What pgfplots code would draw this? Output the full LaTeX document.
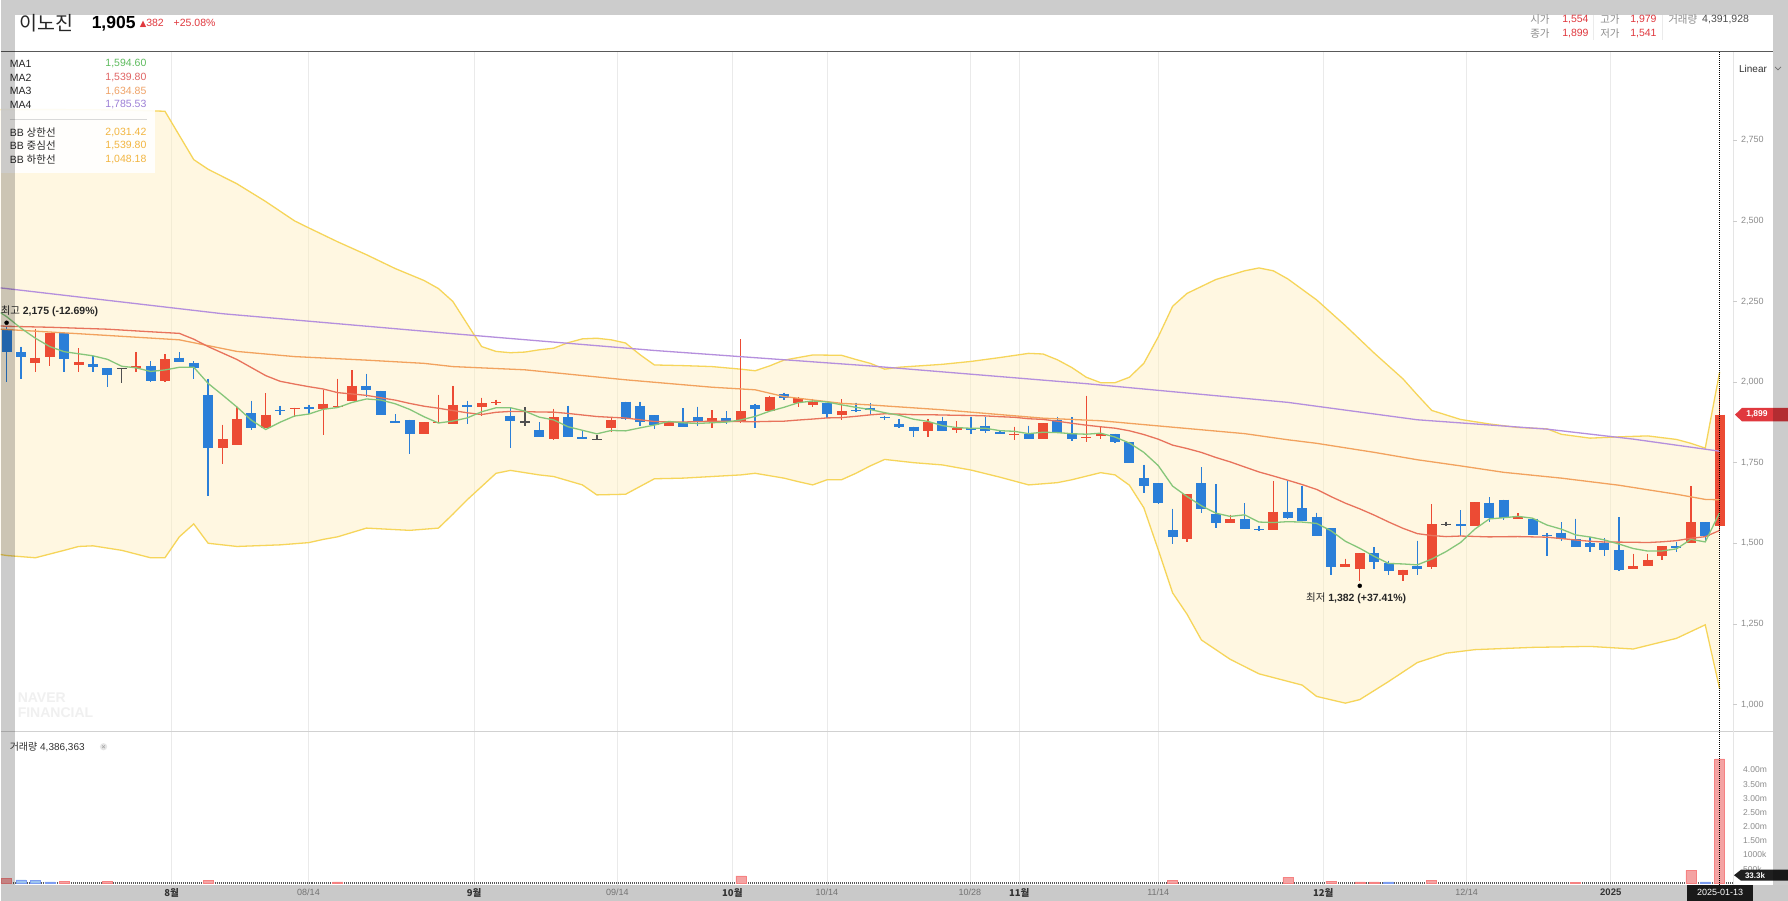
\documentclass[border=0pt]{standalone}
\usepackage{fontspec}
\setmainfont{Liberation Sans}
\newfontfamily\kr{Noto Sans CJK KR}
\newfontfamily\dejavu{DejaVu Sans}
\usepackage{pgfplots}
\usepackage{pgfplotstable}
\pgfplotsset{compat=1.18}

\definecolor{upred}{HTML}{EC4B34}
\definecolor{dnblue}{HTML}{2B7FD8}
\definecolor{dojic}{HTML}{505050}
\definecolor{maA}{HTML}{86C67A}
\definecolor{maB}{HTML}{E8735C}
\definecolor{maC}{HTML}{F2A25E}
\definecolor{maD}{HTML}{B58FDD}
\definecolor{bbline}{HTML}{F6D55A}
\definecolor{bbfill}{HTML}{FFEFBD}
\definecolor{volred}{HTML}{F4A3A3}
\definecolor{volblue}{HTML}{9CC4EE}
\definecolor{hdrred}{HTML}{E0383E}
\definecolor{lbl}{HTML}{8C8C8C}
\definecolor{gridc}{HTML}{EAEAEA}
\definecolor{legA}{HTML}{5DBB5D}
\definecolor{legB}{HTML}{E06464}
\definecolor{legC}{HTML}{EFA266}
\definecolor{legD}{HTML}{9C7FD6}
\definecolor{legBB}{HTML}{F2B540}

\newcommand{\fs}[1]{\fontsize{#1}{#1}\selectfont}

% k top bottom high low  (up = red: top=close, bottom=open)
\pgfplotstableread{
k top bot hi lo
2 2076 2058 2165 2030
3 2151 2079 2151 2051
5 2061 2052 2105 2032
9 2049 2045 2093 2030
11 2071 2004 2086 2000
15 1824 1797 1867 1745
16 1885 1805 1924 1805
18 1899 1858 1965 1858
20 1920 1916 1920 1893
22 1933 1916 1975 1836
23 1926 1922 2010 1922
24 1989 1942 2036 1942
29 1875 1839 1875 1839
30 1877 1873 1960 1873
31 1929 1869 1988 1869
33 1934 1924 1952 1895
34 1938 1934 1945 1930
38 1891 1823 1917 1821
42 1883 1857 1888 1844
46 1877 1865 1877 1864
49 1888 1875 1912 1857
51 1911 1877 2133 1873
53 1955 1909 1957 1909
55 1949 1935 1953 1922
56 1937 1930 1948 1924
58 1911 1898 1947 1881
64 1876 1849 1886 1829
66 1858 1850 1878 1843
70 1840 1836 1862 1821
72 1873 1822 1873 1822
75 1831 1825 1957 1813
76 1838 1833 1862 1822
82 1652 1513 1652 1505
85 1575 1564 1588 1564
88 1598 1540 1692 1540
93 1435 1426 1452 1426
94 1469 1420 1469 1382
97 1418 1400 1418 1384
99 1559 1426 1621 1420
102 1627 1554 1627 1554
105 1580 1576 1593 1576
113 1428 1420 1467 1420
114 1449 1428 1467 1428
115 1490 1459 1490 1449
117 1565 1502 1678 1502
119 1899 1554 1979 1541
}\upT

% down = blue: top=open, bottom=close
\pgfplotstableread{
k top bot hi lo
0 2161 2093 2175 2001
1 2092 2079 2110 2010
4 2151 2072 2151 2030
6 2055 2047 2080 2030
7 2043 2022 2043 1986
10 2050 2004 2065 1999
12 2076 2063 2093 2063
13 2060 2044 2065 2010
14 1960 1797 2010 1648
17 1904 1859 1942 1850
19 1914 1910 1926 1898
21 1922 1916 1930 1900
25 1989 1974 2025 1955
26 1973 1899 1973 1899
27 1878 1874 1900 1874
28 1883 1839 1883 1776
32 1929 1924 1942 1869
35 1896 1878 1919 1797
37 1850 1831 1876 1831
39 1891 1831 1926 1831
40 1831 1823 1847 1823
43 1939 1885 1939 1883
44 1926 1877 1939 1864
45 1897 1867 1897 1854
47 1877 1862 1919 1862
48 1891 1875 1924 1864
50 1888 1877 1909 1870
52 1928 1916 1932 1857
54 1963 1949 1967 1945
57 1936 1901 1936 1888
59 1914 1910 1936 1908
60 1921 1914 1935 1899
61 1893 1889 1896 1882
62 1870 1862 1885 1859
63 1862 1849 1862 1829
65 1879 1849 1893 1849
67 1859 1851 1893 1839
68 1865 1849 1891 1841
69 1846 1839 1849 1838
71 1840 1822 1865 1822
73 1883 1843 1893 1843
74 1841 1822 1891 1818
77 1838 1813 1840 1810
78 1813 1750 1815 1748
79 1703 1678 1744 1656
80 1686 1626 1686 1622
81 1541 1519 1607 1498
83 1686 1606 1735 1594
84 1591 1564 1683 1547
86 1575 1544 1624 1544
87 1544 1540 1555 1538
89 1598 1578 1694 1576
90 1609 1568 1678 1568
91 1581 1524 1595 1524
92 1547 1426 1547 1400
95 1469 1443 1488 1420
96 1440 1414 1446 1400
98 1428 1421 1508 1400
101 1559 1554 1602 1521
103 1626 1578 1643 1567
104 1635 1578 1635 1571
106 1576 1526 1576 1526
107 1526 1521 1531 1459
108 1533 1514 1565 1508
109 1513 1488 1576 1488
110 1502 1488 1519 1474
111 1500 1480 1516 1459
112 1480 1418 1581 1415
116 1490 1485 1503 1474
118 1565 1521 1565 1508
}\dnT

\pgfplotstableread{
k top bot hi lo
8 2045 2041 2043 1996
36 1878 1874 1922 1864
41 1823 1819 1836 1819
100 1561 1557 1567 1554
}\djT

\pgfplotsset{
  candle/.style n args={2}{only marks, forget plot, no markers, mark size=0pt,
    error bars/.cd, y dir=minus, y explicit, error mark=none,
    error bar style={draw=#1, line width=#2}},
}

\begin{document}
\begin{tikzpicture}
\begin{scope}[x=1pt,y=1pt]
\useasboundingbox (0,0) rectangle (1788,901);
\fill[white] (0,0) rectangle (1788,901);
\end{scope}

% ---------------- price panel ----------------
\begin{axis}[at={(0pt,169pt)}, anchor=south west, scale only axis,
  width=1733pt, height=680pt,
  xmin=-0.4167, xmax=119.93, ymin=915.3, ymax=3023.9,
  axis line style={draw=none}, tick style={draw=none},
  xtick={11.458,20.972,32.472,42.43,50.417,56.99,66.92,70.35,80.0,91.458,101.43,111.44},
  xticklabels={}, ytick=\empty, xmajorgrids,
  major grid style={draw=gridc, line width=0.8pt}, clip=true]

% Bollinger band area: upper band forward, lower band backward
\addplot[fill=bbfill, fill opacity=0.45, draw=none, forget plot] coordinates {(-0.42,2845)(0,2845)(4,2845)(8,2844)(11,2840)(12,2765)(13,2690)(14,2660)(16,2615)(18,2560)(20,2500)(21,2478)(23,2435)(25,2395)(27,2352)(29,2315)(30,2290)(31,2250)(32,2180)(33,2110)(34,2095)(35,2091)(36,2093)(37,2100)(38,2105)(39,2122)(40,2134)(41,2136)(42,2131)(43,2121)(44,2085)(45,2053)(47,2051)(49,2048)(51,2040)(52,2035)(53,2050)(54,2068)(56,2084)(58,2083)(59,2070)(60,2058)(61,2040)(62,2046)(65,2055)(67,2064)(69,2076)(71,2089)(72,2087)(73,2069)(74,2045)(75,2015)(76,1998)(77,1998)(78,2015)(79,2058)(80,2140)(81,2235)(82,2275)(84,2318)(86,2345)(87,2354)(88,2345)(89,2320)(91,2255)(93,2175)(95,2090)(97,2010)(98,1960)(99,1912)(101,1884)(103,1870)(105,1859)(107,1855)(108,1838)(110,1826)(112,1830)(114,1833)(116,1822)(117,1810)(118,1795)(119,2031.42)
(119,1048.18)(118,1247)(116,1205)(113,1172)(110,1180)(106,1177)(102,1170)(100,1159)(98,1130)(96,1071)(94,1015)(93,1004)(91,1025)(90,1060)(87,1095)(85,1140)(83,1200)(82,1280)(81,1346)(80,1480)(79,1610)(78,1680)(77,1712)(76,1719)(74,1697)(73,1688)(71,1681)(69,1705)(67,1727)(65,1743)(63,1750)(61,1760)(60,1740)(59,1717)(58,1697)(57,1697)(56,1681)(55,1691)(54,1702)(52,1717)(51,1712)(49,1707)(47,1702)(45,1700)(44,1676)(43,1652)(41,1650)(40,1681)(38,1707)(37,1712)(35,1726)(34,1717)(32,1635)(31,1590)(30,1547)(28,1540)(25,1547)(23,1520)(22,1512)(21,1502)(19,1495)(16,1490)(14,1500)(13,1560)(12,1520)(11,1455)(10,1455)(8,1478)(6,1492)(5,1490)(4,1478)(2,1455)(0,1462)(-0.42,1465)} -- cycle;
\addplot[bbline, line width=1.3pt, forget plot] coordinates {(-0.42,2845)(0,2845)(4,2845)(8,2844)(11,2840)(12,2765)(13,2690)(14,2660)(16,2615)(18,2560)(20,2500)(21,2478)(23,2435)(25,2395)(27,2352)(29,2315)(30,2290)(31,2250)(32,2180)(33,2110)(34,2095)(35,2091)(36,2093)(37,2100)(38,2105)(39,2122)(40,2134)(41,2136)(42,2131)(43,2121)(44,2085)(45,2053)(47,2051)(49,2048)(51,2040)(52,2035)(53,2050)(54,2068)(56,2084)(58,2083)(59,2070)(60,2058)(61,2040)(62,2046)(65,2055)(67,2064)(69,2076)(71,2089)(72,2087)(73,2069)(74,2045)(75,2015)(76,1998)(77,1998)(78,2015)(79,2058)(80,2140)(81,2235)(82,2275)(84,2318)(86,2345)(87,2354)(88,2345)(89,2320)(91,2255)(93,2175)(95,2090)(97,2010)(98,1960)(99,1912)(101,1884)(103,1870)(105,1859)(107,1855)(108,1838)(110,1826)(112,1830)(114,1833)(116,1822)(117,1810)(118,1795)(119,2031.42)};
\addplot[bbline, line width=1.3pt, forget plot] coordinates {(-0.42,1465)(0,1462)(2,1455)(4,1478)(5,1490)(6,1492)(8,1478)(10,1455)(11,1455)(12,1520)(13,1560)(14,1500)(16,1490)(19,1495)(21,1502)(22,1512)(23,1520)(25,1547)(28,1540)(30,1547)(31,1590)(32,1635)(34,1717)(35,1726)(37,1712)(38,1707)(40,1681)(41,1650)(43,1652)(44,1676)(45,1700)(47,1702)(49,1707)(51,1712)(52,1717)(54,1702)(55,1691)(56,1681)(57,1697)(58,1697)(59,1717)(60,1740)(61,1760)(63,1750)(65,1743)(67,1727)(69,1705)(71,1681)(73,1688)(74,1697)(76,1719)(77,1712)(78,1680)(79,1610)(80,1480)(81,1346)(82,1280)(83,1200)(85,1140)(87,1095)(90,1060)(91,1025)(93,1004)(94,1015)(96,1071)(98,1130)(100,1159)(102,1170)(106,1177)(110,1180)(113,1172)(116,1205)(118,1247)(119,1048.18)};

% candles: wicks
\addplot[candle={upred}{1.4pt}] table[x=k, y=hi, y error minus expr=\thisrow{hi}-\thisrow{lo}] {\upT};
\addplot[candle={dnblue}{1.4pt}] table[x=k, y=hi, y error minus expr=\thisrow{hi}-\thisrow{lo}] {\dnT};
\addplot[candle={dojic}{1.4pt}] table[x=k, y=hi, y error minus expr=\thisrow{hi}-\thisrow{lo}] {\djT};
% candles: bodies
\addplot[candle={upred}{10pt}] table[x=k, y=top, y error minus expr=\thisrow{top}-\thisrow{bot}] {\upT};
\addplot[candle={dnblue}{10pt}] table[x=k, y=top, y error minus expr=\thisrow{top}-\thisrow{bot}] {\dnT};
\addplot[candle={dojic}{10pt}] table[x=k, y=top, y error minus expr=\thisrow{top}-\thisrow{bot}] {\djT};

% moving averages
\addplot[maD, line width=1.3pt] coordinates {(-0.42,2292)(0,2290)(15,2212)(31,2150)(45,2098)(60,2050)(75,1995)(89,1937)(98,1883)(107,1854)(113,1823)(119,1785.53)};
\addplot[maC, line width=1.3pt] coordinates {(-0.42,2164)(0,2163)(5,2150)(12,2131)(16,2095)(20,2079)(25,2068)(29,2058)(31,2048)(36,2038)(43,2007)(49,1984)(52,1976)(54,1955)(58,1934)(60,1929)(65,1914)(72,1888)(76,1880)(81,1860)(86,1840)(89,1821)(91,1810)(95,1782)(98,1759)(101,1740)(104,1720)(108,1702)(112,1680)(116,1652)(118,1636)(119,1634.85)};
\addplot[maB, line width=1.3pt] coordinates {(-0.42,2174)(0,2173)(3,2170)(7,2164)(10,2156)(12,2151)(13,2133)(14,2110)(15,2090)(16,2070)(17,2045)(18,2020)(19,2002.4)(20,1993.75)(21,1985.6)(22,1978.45)(23,1967.2)(24,1963.05)(25,1958.7)(26,1951.3)(27,1943.95)(28,1933.75)(29,1925.1)(30,1918.75)(31,1911.65)(32,1904.7)(33,1899.2)(34,1906.2)(35,1908.9)(36,1908.45)(37,1907.05)(38,1906.65)(39,1902.7)(40,1897.85)(41,1893.1)(42,1890.6)(43,1888.55)(44,1882.95)(45,1877.6)(46,1876.5)(47,1875.85)(48,1877.65)(49,1878.3)(50,1878.3)(51,1877.4)(52,1877)(53,1878.05)(54,1878.65)(55,1882.2)(56,1885.25)(57,1888.75)(58,1889.75)(59,1893.7)(60,1898.25)(61,1901.65)(62,1900.6)(63,1898.8)(64,1898.75)(65,1897.85)(66,1896.9)(67,1896.35)(68,1895.05)(69,1892.6)(70,1890.7)(71,1886.25)(72,1884.1)(73,1878.5)(74,1872.15)(75,1866.25)(76,1861.3)(77,1856.9)(78,1848.85)(79,1837.25)(80,1822.85)(81,1804.35)(82,1793.85)(83,1781.7)(84,1766.1)(85,1752.4)(86,1736.7)(87,1721.15)(88,1708.6)(89,1695.55)(90,1682)(91,1667.1)(92,1644.75)(93,1624.35)(94,1606.7)(95,1587.3)(96,1566.1)(97,1546.35)(98,1529.9)(99,1523.95)(100,1520.6)(101,1522.35)(102,1521.1)(103,1519.7)(104,1520.4)(105,1520.65)(106,1519.75)(107,1518.8)(108,1514.6)(109,1510.1)(110,1506.1)(111,1503.9)(112,1503.5)(113,1503.15)(114,1502.15)(115,1504.5)(116,1508.05)(117,1515.4)(118,1520.4)(119,1539.8)};
\addplot[maA, line width=1.3pt] coordinates {(-0.42,2215)(0,2203)(1,2167)(2,2136)(3,2110)(4,2094.2)(5,2087.8)(6,2081.4)(7,2070.6)(8,2049)(9,2044.2)(10,2032.8)(11,2037.6)(12,2045.8)(13,2046)(14,1995.8)(15,1959.8)(16,1922.6)(17,1881.8)(18,1852.8)(19,1875.4)(20,1894.6)(21,1900.8)(22,1915.6)(23,1921)(24,1936.8)(25,1947.6)(26,1944.2)(27,1932.6)(28,1915.2)(29,1892.4)(30,1873)(31,1879)(32,1888.8)(33,1907.8)(34,1920.2)(35,1920.4)(36,1909.8)(37,1891.2)(38,1882.6)(39,1861.4)(40,1850.4)(41,1839.4)(42,1849.8)(43,1848.6)(44,1857.8)(45,1866.6)(46,1877.8)(47,1873.6)(48,1871.6)(49,1873.8)(50,1875.8)(51,1882.6)(52,1893.4)(53,1909.4)(54,1921.6)(55,1936)(56,1941.2)(57,1938.2)(58,1929.4)(59,1921.6)(60,1914.6)(61,1905)(62,1897.2)(63,1884.8)(64,1878)(65,1865)(66,1858.8)(67,1856.6)(68,1856.6)(69,1849.2)(70,1847.2)(71,1840)(72,1844.4)(73,1843.2)(74,1839.8)(75,1838.2)(76,1841.4)(77,1829.4)(78,1810.8)(79,1782)(80,1741)(81,1677.2)(82,1645)(83,1616.2)(84,1593.4)(85,1583.2)(86,1588.2)(87,1565.8)(88,1564.2)(89,1567)(90,1565.6)(91,1561.6)(92,1538.8)(93,1506.2)(94,1484.4)(95,1459.4)(96,1437.4)(97,1435.8)(98,1433)(99,1451)(100,1474.2)(101,1502.2)(102,1544)(103,1575.4)(104,1579.2)(105,1583.4)(106,1577.8)(107,1556.6)(108,1543.8)(109,1525.8)(110,1519.4)(111,1510.2)(112,1497.6)(113,1483.6)(114,1475.8)(115,1476.2)(116,1482.6)(117,1512)(118,1504.2)(119,1594.6)};

% high / low markers
\addplot[only marks, mark=*, mark size=2pt, black] coordinates {(0,2184)(94,1368)};
\end{axis}

% ---------------- volume panel ----------------
\begin{axis}[at={(0pt,16pt)}, anchor=south west, scale only axis,
  width=1733pt, height=153pt,
  xmin=-0.4167, xmax=119.93, ymin=-0.053, ymax=5.353,
  axis line style={draw=none}, tick style={draw=none},
  xtick={11.458,20.972,32.472,42.43,50.417,56.99,66.92,70.35,80.0,91.458,101.43,111.44},
  xticklabels={}, ytick=\empty, xmajorgrids,
  major grid style={draw=gridc, line width=0.8pt}, clip=true]
\addplot[black!65, line width=1.6pt, dash pattern=on 1pt off 1pt] coordinates {(-0.4167,0)(119.93,0)};
\addplot[ybar, bar width=10pt, bar shift=0pt, fill=volred, draw=volred!80!red, line width=0.5pt]
  coordinates {(0,0.17)(4,0.07)(7,0.07)(14,0.11)(23,0.05)(51,0.26)(81,0.11)(89,0.21)(92,0.07)(94,0.05)(95,0.05)(99,0.11)(109,0.04)(117,0.45)(119,4.39)};
\addplot[ybar, bar width=10pt, bar shift=0pt, fill=volblue, draw=volblue!80!blue, line width=0.5pt]
  coordinates {(1,0.12)(2,0.10)(3,0.05)(96,0.05)(118,0.05)};
\end{axis}

\begin{scope}[x=1pt,y=1pt]
% frame lines
\draw[black!65, line width=1.2pt] (0,849.5) -- (1773,849.5);
\draw[black!18, line width=1pt] (0,169) -- (1773,169);
\draw[black!10, line width=0.8pt] (1733,16) -- (1733,849);
\foreach \yy in {196.3,276.9,357.55,438.2,518.8,599.4,680.05,760.7} {\draw[black!20] (1733,\yy) -- (1737,\yy);}

% price tick labels
\begin{scope}[every node/.style={anchor=west, inner sep=0pt, text=lbl, font=\fs{9pt}}]
\node at (1741,196.3) {1,000};
\node at (1741,276.9) {1,250};
\node at (1741,357.55) {1,500};
\node at (1741,438.2) {1,750};
\node at (1741,518.8) {2,000};
\node at (1741,599.4) {2,250};
\node at (1741,680.05) {2,500};
\node at (1741,760.7) {2,750};
\end{scope}
% volume tick labels
\begin{scope}[every node/.style={anchor=west, inner sep=0pt, text=lbl, font=\fs{8.5pt}}]
\node at (1743,130.7) {4.00m};
\node at (1743,116.55) {3.50m};
\node at (1743,102.4) {3.00m};
\node at (1743,88.25) {2.50m};
\node at (1743,74.1) {2.00m};
\node at (1743,59.95) {1.50m};
\node at (1743,45.8) {1000k};
\node at (1743,31.65) {500k};
\end{scope}

% current price tag
\fill[hdrred] (1735,486.2) -- (1742,493) -- (1788,493) -- (1788,479.4) -- (1742,479.4) -- cycle;
\node[anchor=center, inner sep=0pt, text=white, font=\fs{8.5pt}\bfseries] at (1757,486.2) {1,899};
% volume tag
\fill[black!88] (1734,25.5) -- (1741,31) -- (1788,31) -- (1788,20) -- (1741,20) -- cycle;
\node[anchor=center, inner sep=0pt, text=white, font=\fs{8pt}\bfseries] at (1755,25.5) {33.3k};

% cursor
\draw[black, line width=0.7pt, dash pattern=on 1pt off 1pt] (1719.6,16) -- (1719.6,849);

% Linear
\node[anchor=center, inner sep=0pt, text=black!80, font=\fs{10pt}] at (1753,832.5) {Linear};
\draw[black!45, line width=0.7pt] (1775,834) -- (1778,831) -- (1781,834);

% annotations
\node[anchor=west, inner sep=0pt, text=black!85] at (0,590) {{\kr\fs{10.5pt}최고} \fs{10.5pt}\bfseries 2,175 (-12.69\%)};
\node[anchor=center, inner sep=0pt, text=black!85] at (1356,302.4) {{\kr\fs{10.5pt}최저} \fs{10.5pt}\bfseries 1,382 (+37.41\%)};

% watermark
\node[anchor=west, inner sep=0pt, text=black!6, font=\fs{14pt}\bfseries] at (17,203) {NAVER};
\node[anchor=west, inner sep=0pt, text=black!6, font=\fs{14pt}\bfseries] at (17,188) {FINANCIAL};

% legend box
\fill[white, opacity=0.93] (0,728) rectangle (154,846);
\draw[black!15] (9,781.3) -- (146,781.3);
\begin{scope}[every node/.style={inner sep=0pt, font=\fs{10.5pt}}]
\node[anchor=west, text=black!85] at (9,837.1) {MA1};
\node[anchor=west, text=black!85] at (9,823.5) {MA2};
\node[anchor=west, text=black!85] at (9,809.8) {MA3};
\node[anchor=west, text=black!85] at (9,796.1) {MA4};
\node[anchor=east, text=legA] at (146,837.1) {1,594.60};
\node[anchor=east, text=legB] at (146,823.5) {1,539.80};
\node[anchor=east, text=legC] at (146,809.8) {1,634.85};
\node[anchor=east, text=legD] at (146,796.1) {1,785.53};
\node[anchor=west, text=black!85] at (9,768.7) {BB {\kr 상한선}};
\node[anchor=west, text=black!85] at (9,755) {BB {\kr 중심선}};
\node[anchor=west, text=black!85] at (9,741.4) {BB {\kr 하한선}};
\node[anchor=east, text=legBB] at (146,768.7) {2,031.42};
\node[anchor=east, text=legBB] at (146,755) {1,539.80};
\node[anchor=east, text=legBB] at (146,741.4) {1,048.18};
\end{scope}

% volume title
\node[anchor=west, inner sep=0pt, text=black!80, font=\fs{10pt}] at (9,154) {{\kr 거래량} 4,386,363};
\fill[black!10] (103,154) circle (3.6);
\draw[black!35, line width=0.5pt] (101.6,152.6) -- (104.4,155.4) (101.6,155.4) -- (104.4,152.6);

% header
\node[anchor=west, inner sep=0pt, text=black!85, font=\kr\fs{19.5pt}] at (19,877.5) {이노진};
\node[anchor=west, inner sep=0pt, text=black, font=\fs{17.5pt}\bfseries] at (91,877) {1,905};
\node[anchor=west, inner sep=0pt, text=hdrred] at (139,878) {{\dejavu\fs{8.5pt}▲}\fs{10.5pt}382};
\node[anchor=west, inner sep=0pt, text=hdrred, font=\fs{10.5pt}] at (173,878) {+25.08\%};
\begin{scope}[every node/.style={anchor=west, inner sep=0pt, font=\fs{10.5pt}}]
\node[text=lbl] at (1530,881) {\kr 시가};
\node[text=hdrred] at (1562,881) {1,554};
\node[text=lbl] at (1600,881) {\kr 고가};
\node[text=hdrred] at (1630,881) {1,979};
\node[text=lbl] at (1668,881) {\kr 거래량};
\node[text=black!70] at (1702,881) {4,391,928};
\node[text=lbl] at (1530,867.5) {\kr 종가};
\node[text=hdrred] at (1562,867.5) {1,899};
\node[text=lbl] at (1600,867.5) {\kr 저가};
\node[text=hdrred] at (1630,867.5) {1,541};
\end{scope}
\draw[black!8] (1593,861) -- (1593,886);
\draw[black!8] (1662,861) -- (1662,886);

% date band
\fill[black!21] (0,0) rectangle (1788,16);
\begin{scope}[every node/.style={anchor=center, inner sep=0pt}]
\node[text=black!80, font=\kr\fs{9.5pt}\bfseries] at (171,8) {8월};
\node[text=black!55, font=\fs{9pt}] at (308,8) {08/14};
\node[text=black!80, font=\kr\fs{9.5pt}\bfseries] at (473.6,8) {9월};
\node[text=black!55, font=\fs{9pt}] at (617,8) {09/14};
\node[text=black!80, font=\kr\fs{9.5pt}\bfseries] at (732,8) {10월};
\node[text=black!55, font=\fs{9pt}] at (826.6,8) {10/14};
\node[text=black!55, font=\fs{9pt}] at (969.7,8) {10/28};
\node[text=black!80, font=\kr\fs{9.5pt}\bfseries] at (1019,8) {11월};
\node[text=black!55, font=\fs{9pt}] at (1158,8) {11/14};
\node[text=black!80, font=\kr\fs{9.5pt}\bfseries] at (1323,8) {12월};
\node[text=black!55, font=\fs{9pt}] at (1466.6,8) {12/14};
\node[text=black!80, font=\fs{9.5pt}\bfseries] at (1610.7,8) {2025};
\end{scope}
\fill[black!90] (1687,0) rectangle (1753,16);
\node[anchor=center, inner sep=0pt, text=white, font=\fs{9pt}] at (1720,8) {2025-01-13};

% outer grey frame
\fill[black, opacity=0.2] (0,886) rectangle (1788,901);
\fill[black, opacity=0.2] (0,16) rectangle (14,886);
\fill[black, opacity=0.2] (1773,16) rectangle (1788,886);
\end{scope}
\end{tikzpicture}
\end{document}
